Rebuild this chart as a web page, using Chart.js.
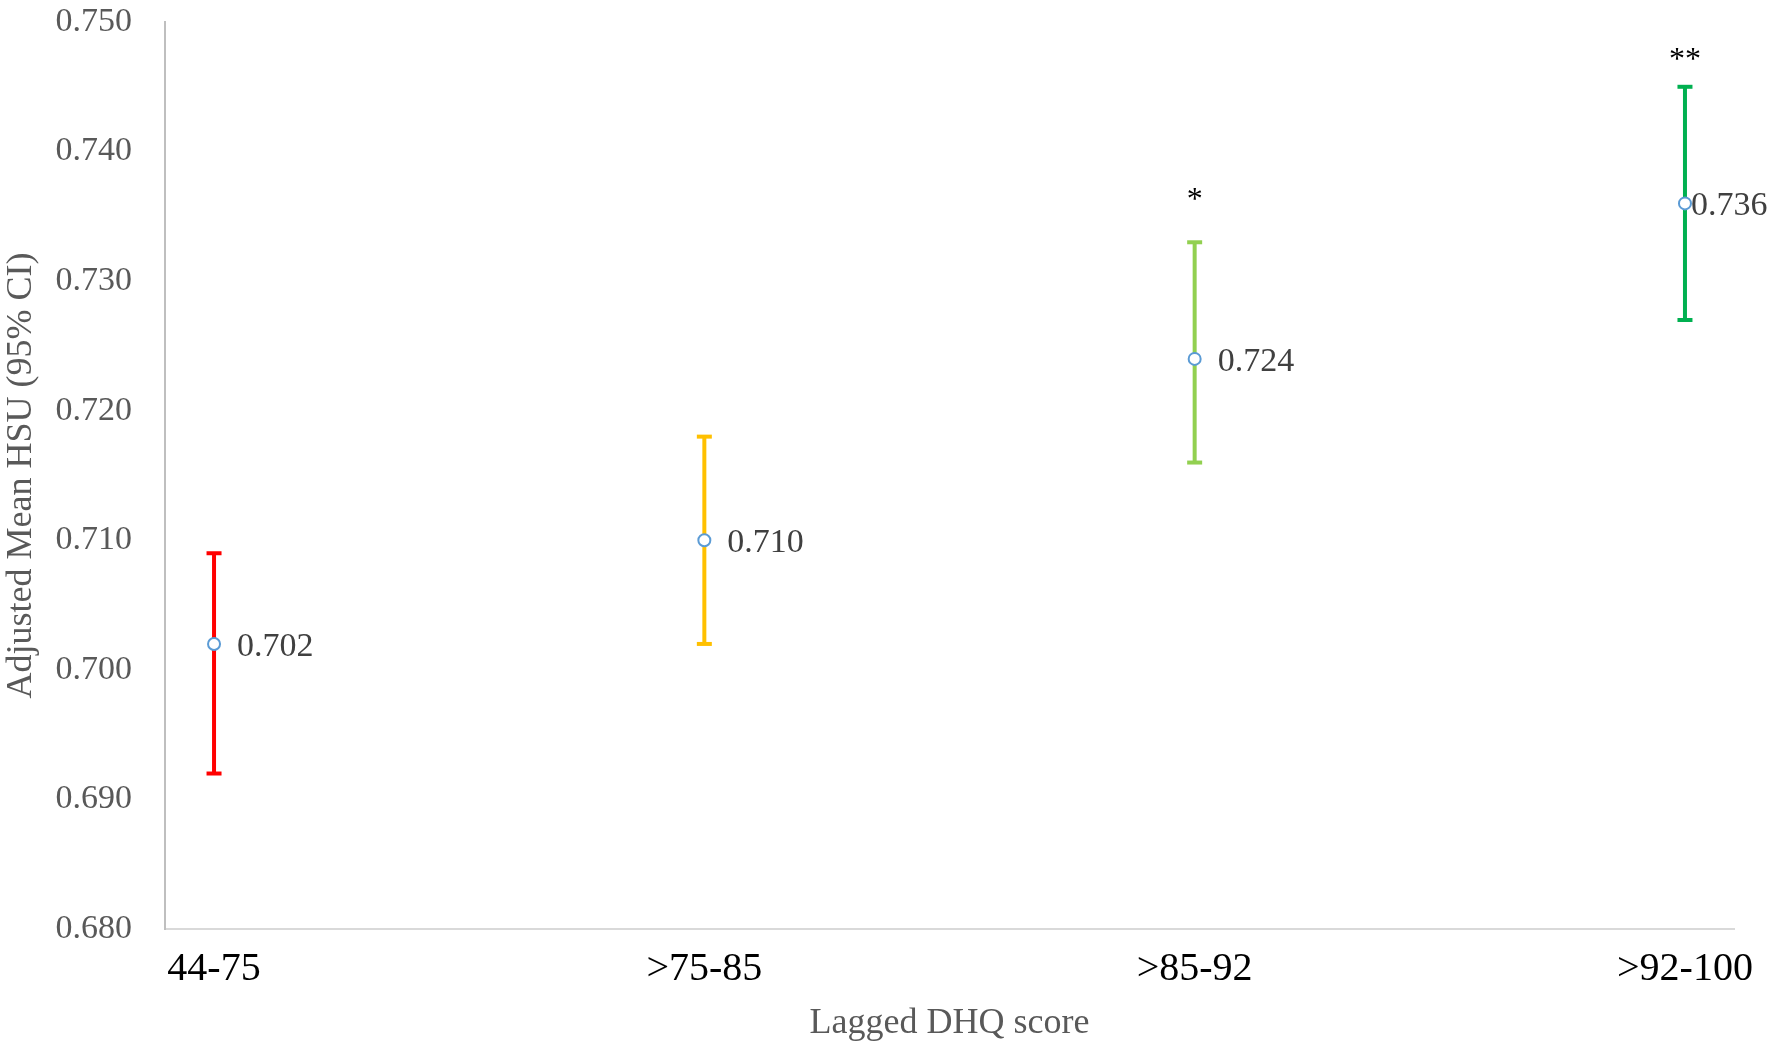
<!DOCTYPE html>
<html lang="en">
<head>
  <meta charset="UTF-8">
  <title>Adjusted Mean HSU by Lagged DHQ score</title>
  <script src="https://cdn.jsdelivr.net/npm/chart.js"></script>
  <style>
    body { margin: 0; background: #fff; }
    #wrap { width: 1773px; height: 1045px; }
  </style>
</head>
<body>
<div id="wrap"><canvas id="hsuChart"></canvas></div>

<script>
  // data
  var categories = ['44-75', '>75-85', '>85-92', '>92-100'];
  var means = [0.702, 0.710, 0.724, 0.736];
  var ciLow = [0.692, 0.702, 0.716, 0.727];
  var ciHigh = [0.709, 0.718, 0.733, 0.745];
  var stars = ['', '', '*', '**'];
  var barColors = ['#FF0000', '#FFC000', '#92D050', '#00B050'];
  var yTicks = [0.680, 0.690, 0.700, 0.710, 0.720, 0.730, 0.740, 0.750];

  var serif = "'Liberation Serif', 'DejaVu Serif', serif";

  // one small line dataset per CI, caps drawn with the 'line' point style
  var datasets = [{
    label: 'Mean',
    type: 'scatter',
    data: means.map(function(m, i) { return { x: i, y: m }; }),
    pointStyle: 'circle',
    pointRadius: 6,
    pointBorderWidth: 2,
    pointBorderColor: '#5B9BD5',
    pointBackgroundColor: '#FFFFFF',
    order: 0
  }];
  categories.forEach(function(c, i) {
    datasets.push({
      label: c + ' CI',
      type: 'line',
      data: [{ x: i, y: ciLow[i] }, { x: i, y: ciHigh[i] }],
      borderColor: barColors[i],
      borderWidth: 4,
      pointStyle: 'line',
      pointRadius: 7.5,
      pointBorderWidth: 4,
      pointBorderColor: barColors[i],
      order: 1
    });
  });

  // value labels next to the means and significance stars over the CIs
  var labelPlugin = {
    id: 'labels',
    afterDatasetsDraw: function(chart) {
      var ctx = chart.ctx;
      var xs = chart.scales.x, ys = chart.scales.y;
      ctx.save();
      means.forEach(function(m, i) {
        var px = xs.getPixelForValue(i);
        var py = ys.getPixelForValue(m);
        var off = i === means.length - 1 ? 6 : 23;
        ctx.font = '34px ' + serif;
        ctx.fillStyle = '#404040';
        ctx.textAlign = 'left';
        ctx.textBaseline = 'middle';
        ctx.fillText(m.toFixed(3), px + off, py + 3);
        if (stars[i]) {
          // Excel placed the single star a bit higher above its cap
          var gap = stars[i].length === 1 ? 51 : 36;
          ctx.font = '32px ' + serif;
          ctx.fillStyle = '#000000';
          ctx.textAlign = 'center';
          ctx.textBaseline = 'alphabetic';
          ctx.fillText(stars[i], px, ys.getPixelForValue(ciHigh[i]) - gap + 18);
        }
      });
      ctx.restore();
    }
  };

  new Chart(document.getElementById('hsuChart').getContext('2d'), {
    type: 'scatter',
    data: { datasets: datasets },
    options: {
      responsive: true,
      maintainAspectRatio: false,
      animation: false,
      layout: { padding: { top: 22, right: 39, left: 0, bottom: 0 } },
      plugins: {
        legend: { display: false },
        tooltip: { enabled: false }
      },
      scales: {
        x: {
          type: 'linear',
          min: -0.1,
          max: 3.1,
          afterBuildTicks: function(scale) {
            scale.ticks = categories.map(function(c, i) { return { value: i }; });
          },
          afterFit: function(scale) { scale.height = 116; },
          grid: { display: false, drawTicks: false },
          border: { color: '#D9D9D9', width: 2 },
          ticks: {
            padding: 16,
            color: '#000000',
            font: { family: serif, size: 40 },
            maxRotation: 0,
            callback: function(v) { return categories[v]; }
          },
          title: {
            display: true,
            text: 'Lagged DHQ score',
            color: '#595959',
            font: { family: serif, size: 36 },
            padding: { top: 0, bottom: 0 }
          }
        },
        y: {
          min: yTicks[0],
          max: yTicks[yTicks.length - 1],
          afterBuildTicks: function(scale) {
            scale.ticks = yTicks.map(function(v) { return { value: v }; });
          },
          afterFit: function(scale) {
            scale.width = 165;
            scale.paddingTop = 0;
            scale.paddingBottom = 0;
          },
          grid: { display: false, drawTicks: false },
          border: { color: '#BFBFBF', width: 2 },
          ticks: {
            padding: 33,
            color: '#595959',
            font: { family: serif, size: 34 },
            callback: function(v) { return v.toFixed(3); }
          },
          title: {
            display: true,
            text: 'Adjusted Mean HSU (95% CI)',
            color: '#595959',
            font: { family: serif, size: 36 },
            padding: { top: 0, bottom: 0 }
          }
        }
      }
    },
    plugins: [labelPlugin]
  });
</script>
</body>
</html>
